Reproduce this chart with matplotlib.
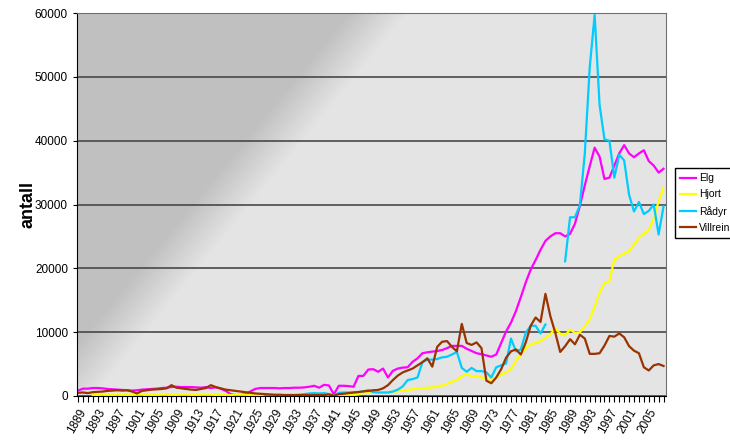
import numpy as np
import matplotlib
matplotlib.use("Agg")
import matplotlib.pyplot as plt
from matplotlib.colors import LinearSegmentedColormap

plt.rcParams['font.family'] = ['Liberation Sans', 'DejaVu Sans']

nan = np.nan
years = np.arange(1889, 2009)

# felt vilt per år
elg = [850, 1150, 1150, 1250, 1250, 1200, 1100, 1050, 1000, 950,
       900, 850, 900, 1000, 1050, 1100, 1150, 1250, 1300, 1400,
       1450, 1400, 1400, 1400, 1350, 1300, 1400, 1250, 1350, 1150,
       800, 300, 150, 150, 300, 700, 1100, 1250, 1250, 1250,
       1250, 1200, 1250, 1250, 1300, 1300, 1350, 1450, 1600, 1300,
       1750, 1650, 250, 1600, 1600, 1550, 1450, 3150, 3150, 4150,
       4200, 3800, 4300, 2900, 3950, 4300, 4450, 4500, 5350, 5900,
       6700, 6850, 6950, 7050, 7200, 7500, 7850, 7850, 7850, 7400,
       7050, 6700, 6550, 6350, 6150, 6500, 8300, 10100, 11500, 13300,
       15500, 17800, 19800, 21300, 22900, 24300, 25000, 25500, 25500, 25000,
       25400, 27000, 29800, 33000, 36000, 38900, 37500, 34000, 34200, 36100,
       38000, 39300, 38000, 37400, 38000, 38500, 36800, 36100, 35000, 35600]

hjort = [nan, nan, nan, 150, 150, 200, 150, 150, 200, 150,
         150, 150, 200, 200, 150, 150, 150, 200, 200, 150,
         150, 200, 200, 150, 150, 200, 200, 200, 150, 150,
         150, 150, 200, 200, 200, 150, 150, 150, 200, 200,
         200, 150, 150, 200, 200, 200, 150, 150, 200, 200,
         150, 100, 100, 100, 100, 150, 150, 250, 450, 500,
         520, 550, 560, 600, 650, 750, 850, 950, 1050, 1150,
         1200, 1300, 1350, 1450, 1650, 1900, 2250, 2500, 3050, 3500,
         3050, 3150, 2900, 2650, 2500, 2900, 3350, 3700, 4200, 5500,
         6500, 7500, 8100, 8300, 8600, 9100, 9650, 10600, 9750, 9500,
         10400, 9900, 10000, 10900, 12000, 14000, 16200, 17700, 18000, 21400,
         21900, 22300, 22700, 23700, 24800, 25400, 26000, 27800, 30500, 32600]

radyr = [nan] * 38 + [
    50, 50, 50, 100, 150, 150, 150, 200, 300, 400,
    450, 400, 450, 300, 0, 500, 550, 550, 550, 600,
    750, 900, 600, 550, 550, 550, 700, 1000, 1500, 2500,
    2650, 2900, 5300, 5700, 5700, 5800, 6050, 6150, 6500, 6900,
    4400, 3800, 4400, 3900, 3900, 3700, 2900, 4500, 4800, 5100,
    9000, 7000, 7300, 9900, 11000, 11000, 9800, 11200, nan, nan,
    nan, 21100, 28000, 28000, 29900, 38000, 51500, 59700, 45600, 40200,
    40000, 34200, 37800, 36900, 31500, 28900, 30400, 28500, 29000, 30000,
    25300, 29700]

villrein = [500, 550, 450, 600, 650, 700, 800, 850, 900, 850,
            900, 700, 400, 800, 900, 1000, 1050, 1100, 1200, 1700,
            1300, 1200, 1100, 1000, 950, 1100, 1250, 1700, 1400, 1200,
            1000, 900, 800, 700, 600, 500, 400, 350, 300, 250,
            200, 200, 150, 150, 150, 150, 150, 150, 150, 150,
            150, 250, 50, 300, 350, 450, 550, 630, 720, 800,
            900, 950, 1200, 1700, 2500, 3200, 3700, 4000, 4300, 4800,
            5300, 5900, 4600, 7700, 8500, 8600, 7700, 7000, 11300, 8300,
            8000, 8400, 7500, 2400, 2000, 2900, 4200, 6000, 7000, 7300,
            6500, 8400, 11000, 12300, 11600, 16000, 12500, 9900, 6900, 7800,
            8900, 8100, 9600, 9000, 6600, 6600, 6700, 7900, 9400, 9300,
            9800, 9200, 7800, 7100, 6700, 4500, 4000, 4800, 5000, 4700]

fig = plt.figure(figsize=(7.3, 4.43), dpi=100)
ax = fig.add_axes([77/730, 1-396/443, 589/730, 383/443])

# bakgrunn: mørk flate øverst til venstre, skrå overgang til lys grå
px, py = np.meshgrid(np.arange(589), np.arange(383))
s = px - (300 - py * 0.82)
t = np.clip((s + 30) / 60.0, 0, 1)
cmap = LinearSegmentedColormap.from_list('bg', ['#c0c0c0', '#e4e4e4'])
ax.imshow(t, extent=[0, 1, 0, 1], transform=ax.transAxes, aspect='auto',
          cmap=cmap, vmin=0, vmax=1, zorder=0, interpolation='bilinear')

ax.plot(years, elg, color='#ff00ff', lw=1.6, label='Elg')
ax.plot(years, hjort, color='#ffff00', lw=1.6, label='Hjort')
ax.plot(years, radyr, color='#00ccff', lw=1.6, label='Rådyr')
ax.plot(years, villrein, color='#993300', lw=1.6, label='Villrein')

ax.set_xlim(1888.8, 2008.5)
ax.set_ylim(0, 60000)
ax.set_yticks(np.arange(0, 60001, 10000))
ax.set_xticks(np.arange(1889, 2009, 4))
ax.set_xticks(np.arange(1889, 2009, 1), minor=True)
ax.set_xticklabels([str(y) for y in range(1889, 2009, 4)], rotation=60,
                   ha='right', rotation_mode='anchor', fontsize=8.5)
ax.tick_params(axis='y', labelsize=8.5, length=3, direction='out')
ax.tick_params(axis='x', which='both', length=4, direction='out', width=0.8)

ax.set_axisbelow(True)
ax.yaxis.grid(True, color='#484848', lw=1.2)
for s_ in ['top', 'right']:
    ax.spines[s_].set_color('#707070')
for s_ in ['left', 'bottom']:
    ax.spines[s_].set_color('black')

fig.text(28/730, 1-204/443, 'antall', rotation=90, fontsize=13,
         fontweight='bold', ha='center', va='center')

ax.legend(loc='upper left', bbox_to_anchor=(675/730, 1-168/443),
          bbox_transform=fig.transFigure, fancybox=False, edgecolor='black',
          framealpha=1, fontsize=7.5, handlelength=1.5, borderpad=0.5,
          labelspacing=0.6, handletextpad=0.3, borderaxespad=0)

fig.savefig('out.png', dpi=100)
